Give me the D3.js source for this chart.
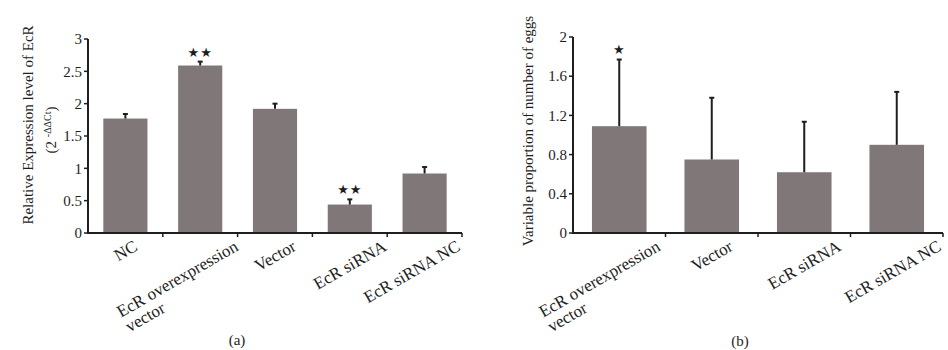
<!DOCTYPE html>
<html>
<head>
<meta charset="utf-8">
<script src="https://cdn.jsdelivr.net/npm/d3@7"></script>
<style>
  body { margin: 0; background: #fff; }
  svg { display: block; font-family: "Liberation Serif", "Times New Roman", serif; }
</style>
</head>
<body>
<div id="chart"></div>
<script>
// panel (a) data
const catsA = ["NC", "EcR overexpression\nvector", "Vector", "EcR siRNA", "EcR siRNA NC"];
const valsA = [1.77, 2.59, 1.92, 0.44, 0.92];
const errA = [0.07, 0.06, 0.08, 0.08, 0.10];
const sigA = ["", "**", "", "**", ""];
const ticksA = [0, 0.5, 1, 1.5, 2, 2.5, 3];

// panel (b) data
const catsB = ["EcR overexpression\nvector", "Vector", "EcR siRNA", "EcR siRNA NC"];
const valsB = [1.09, 0.75, 0.62, 0.90];
const errB = [0.68, 0.63, 0.515, 0.54];
const sigB = ["*", "", "", ""];
const ticksB = [0, 0.4, 0.8, 1.2, 1.6, 2];

const W = 948, H = 350;
const barColor = "#807878";
const ink = "#1e1e1e";

const svg = d3.select("#chart").append("svg")
	.attr("width", W).attr("height", H);

function drawPanel(opt){
	let g = svg.append("g");
	let x = d3.scaleBand().domain(opt.cats).range(opt.xRange).paddingInner(0).paddingOuter(0);
	let y = d3.scaleLinear().domain([0, d3.max(opt.ticks)]).range(opt.yRange);
	let bw = x.bandwidth() * 0.59;
	let y0 = y(0);

	// bars
	g.selectAll("rect.bar").data(opt.vals).enter().append("rect")
		.attr("x", (d, i) => x(opt.cats[i]) + (x.bandwidth() - bw) / 2)
		.attr("y", d => y(d))
		.attr("width", bw)
		.attr("height", d => y0 - y(d))
		.attr("fill", barColor);

	// error bars
	opt.vals.forEach(function(v, i){
		let cx = x(opt.cats[i]) + x.bandwidth() / 2;
		let top = y(v + opt.err[i]);
		g.append("line").attr("x1", cx).attr("x2", cx).attr("y1", y(v)).attr("y2", top)
			.attr("stroke", ink).attr("stroke-width", 2);
		g.append("line").attr("x1", cx - 2.5).attr("x2", cx + 2.5).attr("y1", top).attr("y2", top)
			.attr("stroke", ink).attr("stroke-width", 2);
		if(opt.sig[i]){
			g.append("text").attr("x", cx).attr("y", top - opt.starGap)
				.attr("text-anchor", "middle")
				.style("font-family", "DejaVu Sans")
				.style("font-size", "13px")
				.style("letter-spacing", "1px")
				.attr("fill", ink)
				.text(opt.sig[i].replace(/\*/g, "\u2605"));
		}
	});

	// y axis
	let x0 = opt.xRange[0];
	g.append("line").attr("x1", x0).attr("x2", x0).attr("y1", y0).attr("y2", opt.yRange[1])
		.attr("stroke", ink).attr("stroke-width", 2);
	opt.ticks.forEach(function(t){
		g.append("line").attr("x1", x0 - 4).attr("x2", x0).attr("y1", y(t)).attr("y2", y(t))
			.attr("stroke", ink).attr("stroke-width", 1.5);
		g.append("text").attr("x", x0 - 6).attr("y", y(t)).attr("dy", "0.35em")
			.attr("text-anchor", "end").style("font-size", "15px").attr("fill", ink)
			.text(t);
	});

	// x axis
	g.append("line").attr("x1", x0 - 1).attr("x2", opt.xRange[1]).attr("y1", y0).attr("y2", y0)
		.attr("stroke", ink).attr("stroke-width", 2);
	opt.cats.forEach(function(c, i){
		let bx = x(c) + x.bandwidth();
		g.append("line").attr("x1", bx).attr("x2", bx).attr("y1", y0).attr("y2", y0 + 4)
			.attr("stroke", ink).attr("stroke-width", 1.5);
	});

	// rotated category labels: first line centred under the band,
	// wrapped lines left aligned, last label kept inside the plot width
	let ang = -30, rad = ang * Math.PI / 180, lh = 17, fh = 15;
	let cs = Math.cos(rad), sn = Math.abs(Math.sin(rad));
	opt.cats.forEach(function(c, i){
		let lines = c.split("\n");
		let lg = g.append("g");
		let t = lg.append("text").attr("text-anchor", "start")
			.style("font-size", "17px").attr("fill", ink);
		lines.forEach(function(l, li){
			t.append("tspan").attr("y", li * lh).attr("dy", "0.35em").text(l);
		});
		let L1 = t.select("tspan").node().getComputedTextLength();
		t.selectAll("tspan").attr("x", -L1 / 2);
		let halfW = (L1 * cs + fh * sn) / 2;
		let halfH = (L1 * sn + fh * cs) / 2;
		let cx = x(c) + x.bandwidth() / 2 + (lines.length > 1 ? opt.wrapShift : 0);
		cx = Math.min(cx, opt.xRange[1] - halfW);
		let cy = y0 + opt.labelGap + halfH;
		lg.attr("transform", "translate(" + cx + "," + cy + ") rotate(" + ang + ")");
	});

	// caption
	g.append("text").attr("x", opt.capX).attr("y", opt.capY).attr("text-anchor", "middle")
		.style("font-size", "15px").attr("fill", ink).text(opt.caption);
	return {g: g, x: x, y: y};
}

drawPanel({
	cats: catsA, vals: valsA, err: errA, sig: sigA, ticks: ticksA,
	xRange: [88, 462], yRange: [233, 39], starGap: 5, labelGap: 5, wrapShift: -23,
	caption: "(a)", capX: 237, capY: 345
});

drawPanel({
	cats: catsB, vals: valsB, err: errB, sig: sigB, ticks: ticksB,
	xRange: [573, 943], yRange: [233, 37], starGap: 6, labelGap: 5, wrapShift: -20,
	caption: "(b)", capX: 740, capY: 346
});

// y axis titles
let ta = svg.append("text").attr("transform", "translate(33,125) rotate(-90)")
	.attr("text-anchor", "middle").style("font-size", "15px").attr("fill", ink);
ta.text("Relative Expression level of EcR");

let ta2 = svg.append("text").attr("transform", "translate(56,130) rotate(-90)")
	.attr("text-anchor", "middle").style("font-size", "15px").attr("fill", ink);
ta2.append("tspan").text("(2 ");
ta2.append("tspan").style("font-size", "10px").attr("dy", -5).text("-\u0394\u0394Ct");
ta2.append("tspan").attr("dy", 5).text(")");

svg.append("text").attr("transform", "translate(533,131) rotate(-90)")
	.attr("text-anchor", "middle").style("font-size", "15px").attr("fill", ink)
	.text("Variable proportion of number of eggs");
</script>
</body>
</html>
